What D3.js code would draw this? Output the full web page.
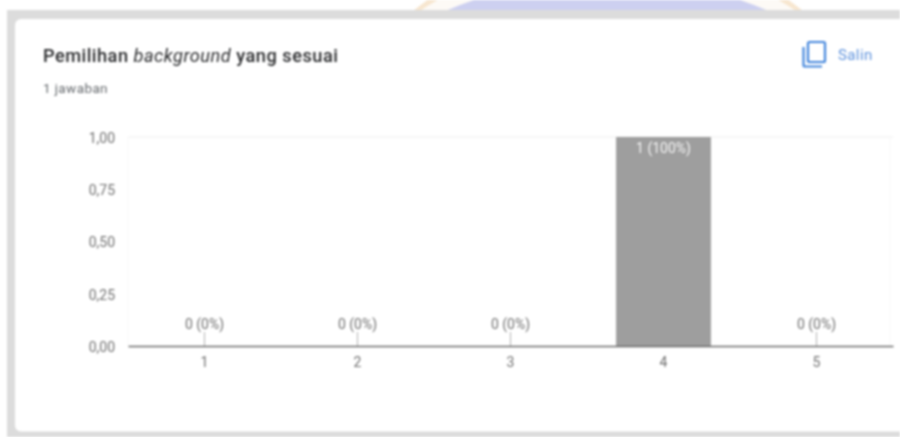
<!DOCTYPE html>
<html><head><meta charset="utf-8">
<style>html,body{margin:0;padding:0;background:#fff}svg{display:block;filter:blur(0.9px)}text{font-family:Roboto,Arial,sans-serif}</style>
<script src="https://cdn.jsdelivr.net/npm/d3@7"></script></head><body>
<script>
const categories = ["1","2","3","4","5"];
const counts = [0,0,0,1,0];
const labels = ["0 (0%)","0 (0%)","0 (0%)","1 (100%)","0 (0%)"];
const yTicks = [0,0.25,0.5,0.75,1];
const yTickLabels = ["0,00","0,25","0,50","0,75","1,00"];
const title = ["Pemilihan ","background"," yang sesuai"];
const subtitle = "1 jawaban";

const W=900,H=437;
const svg=d3.select("body").append("svg").attr("width",W).attr("height",H);
// watermark remnants above the card
svg.append("circle").attr("cx",608).attr("cy",252).attr("r",310).attr("fill","#f7e6cf");
svg.append("circle").attr("cx",608).attr("cy",300).attr("r",345).attr("fill","#fdfaf6");
svg.append("circle").attr("cx",607).attr("cy",391).attr("r",413).attr("fill","#cdd0f0");
// page surround and card
svg.append("rect").attr("x",0).attr("y",0).attr("width",7).attr("height",H).attr("fill","#fff");
svg.append("rect").attr("x",7).attr("y",10).attr("width",W-7).attr("height",H-10).attr("fill","#dcdcdc");
svg.append("rect").attr("x",15).attr("y",19).attr("width",W).attr("height",412.5).attr("rx",6).attr("fill","#fff");

const x=d3.scaleBand().domain(categories).range([128,893]).paddingInner(0.38).paddingOuter(0.19);
const y=d3.scaleLinear().domain([0,1]).range([346,137]);

svg.append("text").attr("x",43).attr("y",62).attr("font-size",18.2).attr("letter-spacing",0.5).attr("fill","#2b2c2e")
  .selectAll("tspan").data(title).join("tspan").attr("font-style",(d,i)=>i==1?"italic":"normal").attr("font-weight",(d,i)=>i==1?400:500).text(d=>d);
svg.append("text").attr("x",43).attr("y",93).attr("font-size",13.5).attr("letter-spacing",0.4).attr("fill","#666a6e").text(subtitle);

// copy icon
const ic=svg.append("g").attr("fill","none").attr("stroke","#4285dc").attr("stroke-width",2.2);
ic.append("rect").attr("x",808).attr("y",42).attr("width",17).attr("height",20).attr("rx",1.5);
ic.append("path").attr("d","M803.5 47V65Q803.5 66.5 805 66.5H822");
svg.append("text").attr("x",838).attr("y",60).attr("font-size",15).attr("font-weight",400).attr("letter-spacing",0.4).attr("fill","#5f93dd").text("Salin");

// top gridline and faint side lines
svg.append("line").attr("x1",128).attr("x2",893).attr("y1",y(1)).attr("y2",y(1)).attr("stroke","#eeeeee");
svg.selectAll(".side").data([128,890]).join("line").attr("class","side")
  .attr("x1",d=>d).attr("x2",d=>d).attr("y1",y(1)).attr("y2",y(0)).attr("stroke","#f8f8f8");

const yAxis=d3.axisLeft(y).tickValues(yTicks).tickFormat((d,i)=>yTickLabels[i]).tickSize(0).tickPadding(13);
const gy=svg.append("g").attr("transform","translate(128,1)").call(yAxis);
gy.select(".domain").remove();
gy.selectAll("text").attr("font-size",14).attr("fill","#707070");

svg.selectAll(".bar").data(categories).join("rect").attr("class","bar")
  .attr("x",d=>x(d)).attr("width",x.bandwidth())
  .attr("y",(d,i)=>y(counts[i])).attr("height",(d,i)=>y(0)-y(counts[i])).attr("fill","#9e9e9e");

// stems for zero bars
svg.selectAll(".stem").data(categories.filter((d,i)=>counts[i]===0)).join("line").attr("class","stem")
  .attr("x1",d=>x(d)+x.bandwidth()/2).attr("x2",d=>x(d)+x.bandwidth()/2)
  .attr("y1",y(0)-14).attr("y2",y(0)).attr("stroke","#b5b5b5");

svg.selectAll(".val").data(categories).join("text").attr("class","val")
  .attr("x",d=>x(d)+x.bandwidth()/2).attr("text-anchor","middle").attr("font-size",14)
  .attr("y",(d,i)=>counts[i]>0?y(counts[i])+16:y(0)-17)
  .attr("fill",(d,i)=>counts[i]>0?"#f5f5f5":"#707070").text((d,i)=>labels[i]);

const xAxis=d3.axisBottom(x).tickSize(0).tickPadding(11);
const gx=svg.append("g").attr("transform",`translate(0,${y(0)})`).call(xAxis);
gx.select(".domain").attr("stroke","#6a6a6a").attr("stroke-width",1.3);
gx.selectAll("text").attr("font-size",14).attr("fill","#707070");
</script></body></html>
